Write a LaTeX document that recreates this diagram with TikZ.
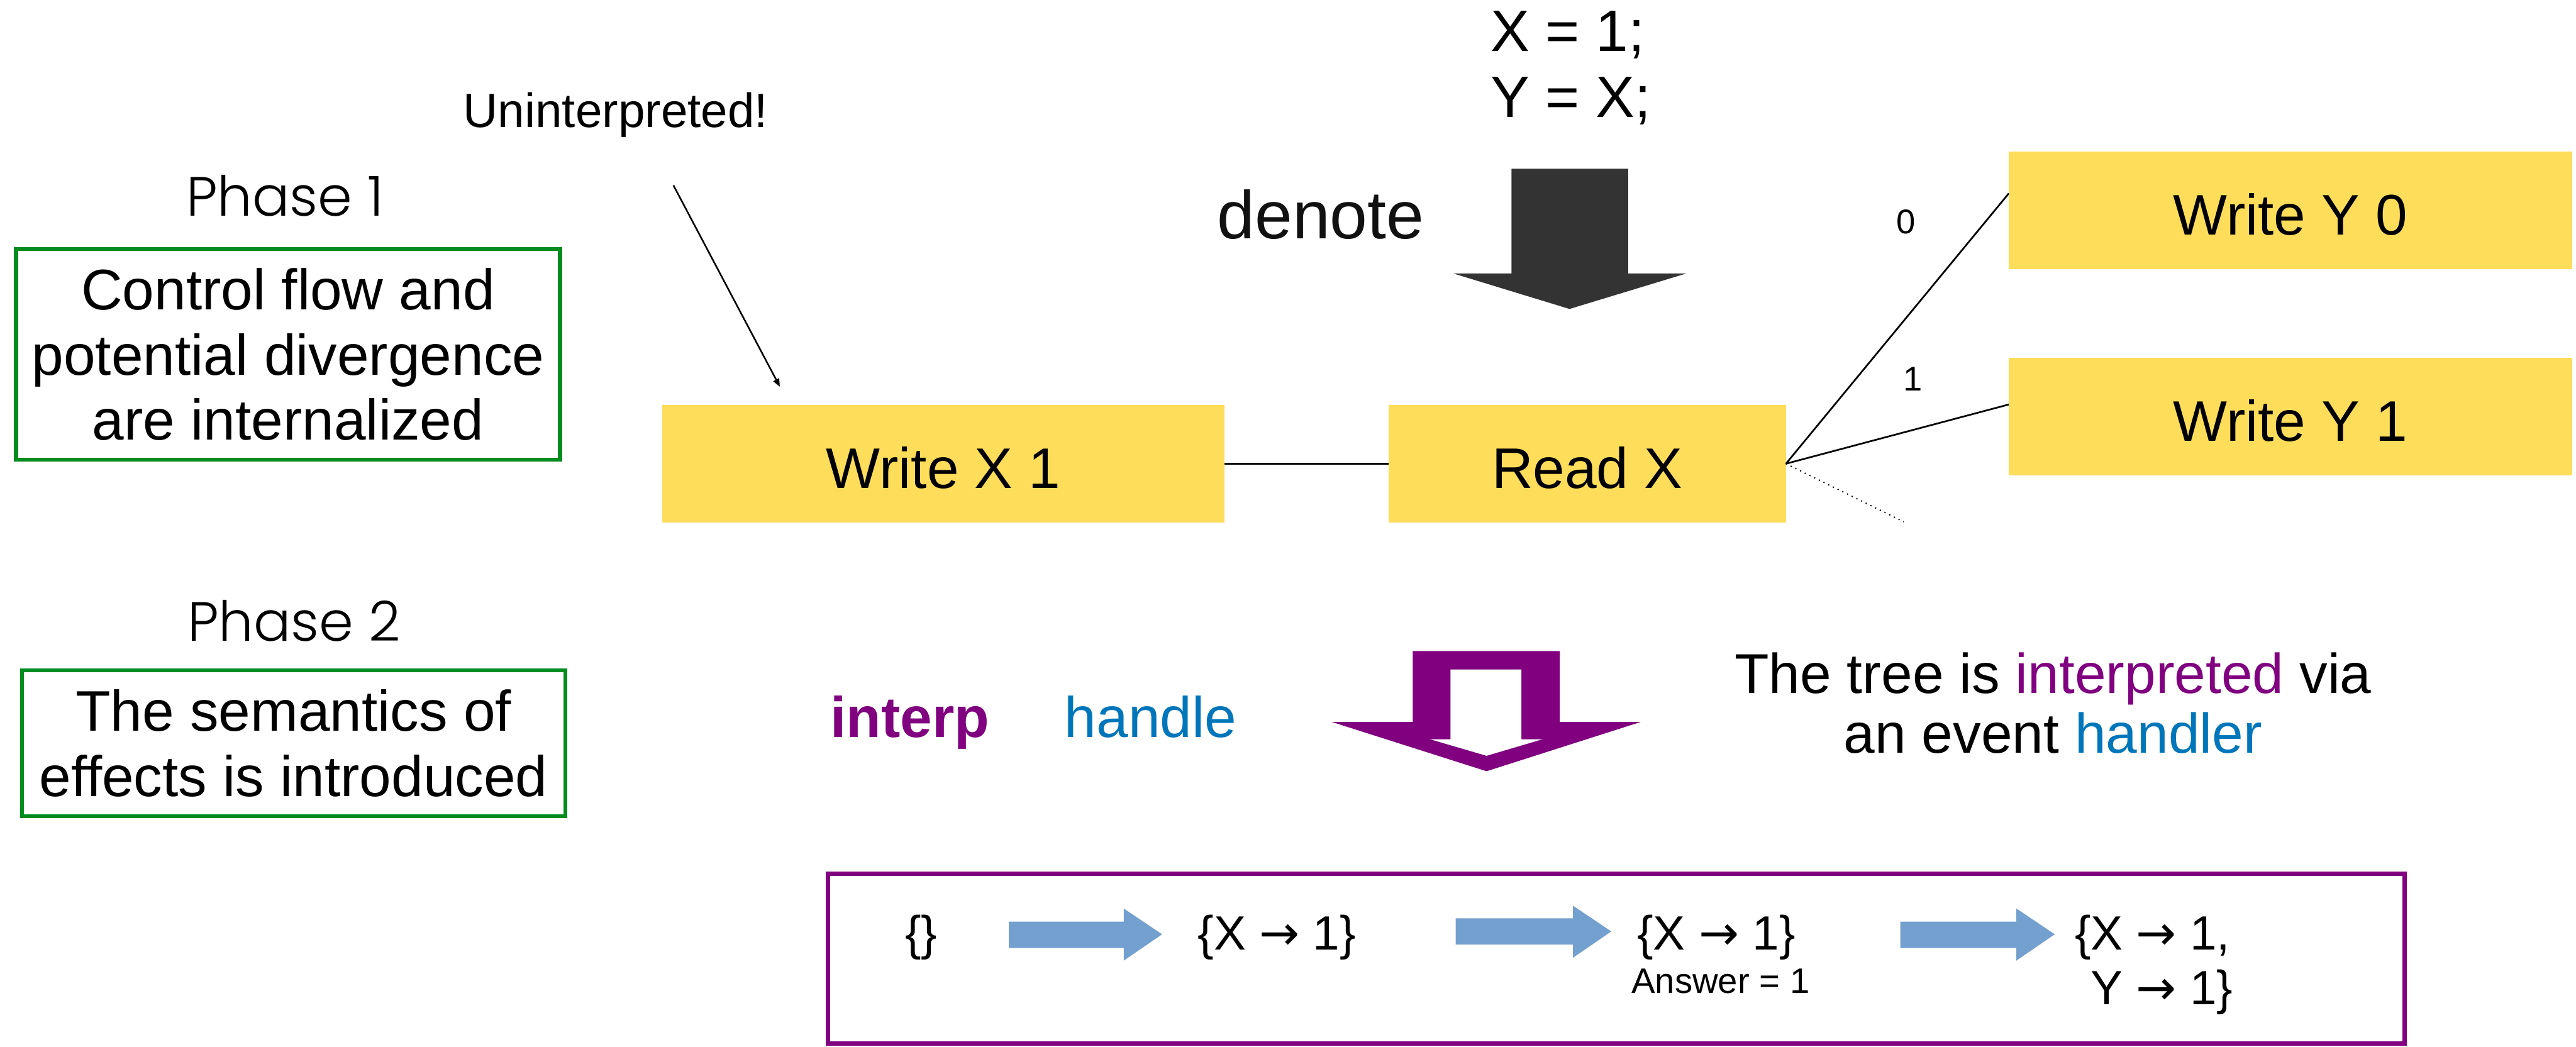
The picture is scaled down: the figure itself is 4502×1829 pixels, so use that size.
\documentclass[tikz,border=0pt]{standalone}
\usepackage{fontspec}
\setmainfont{Liberation Sans}
\newfontfamily\gothicfont{Poppins}[UprightFont={* Light}]
\newfontfamily\arrowfont{DejaVu Sans}
\newcommand\mapsarrow{{\arrowfont →}}
\usetikzlibrary{arrows.meta}

\definecolor{phasegreen}{RGB}{0,140,30}
\definecolor{interppurple}{RGB}{128,0,128}
\definecolor{handleblue}{RGB}{0,118,186}
\definecolor{eventyellow}{RGB}{254,221,90}
\definecolor{darkarrow}{RGB}{51,51,51}
\definecolor{denotegray}{RGB}{17,17,17}
\definecolor{stateblue}{RGB}{116,160,207}

\begin{document}
\begin{tikzpicture}[x=0.01cm,y=-0.01cm,
  every node/.style={inner sep=0pt, outer sep=0pt},
  phaselabel/.style={font=\gothicfont\fontsize{27.5}{32}\selectfont, anchor=base},
  phasebox/.style={draw=phasegreen, line width=0.07cm, align=center,
    font=\fontsize{28.45}{32.4}\selectfont},
  eventbox/.style={fill=eventyellow, minimum height=2.05cm, text height=0.86cm,
    text depth=0pt, font=\fontsize{28.45}{34}\selectfont},
  treeline/.style={line width=0.85pt},
  branchlabel/.style={font=\fontsize{17}{20}\selectfont},
  statetext/.style={font=\fontsize{23.9}{27.3}\selectfont},
  notearrow/.style={line width=0.8pt, -{Triangle[length=0.14cm,width=0.11cm]}},
]
\useasboundingbox (0,0) rectangle (4502,1829);

% ---- phase descriptions ----
\node[phaselabel] (ph1) at (498,378) {Phase 1};
\node[phasebox, minimum width=9.5cm, minimum height=3.68cm] (ph1box) at (503.5,619.5)
  {Control flow and\\potential divergence\\are internalized};
\node[phaselabel] (ph2) at (514,1120) {Phase 2};
\node[phasebox, minimum width=9.49cm, minimum height=2.55cm] (ph2box) at (513,1299)
  {The semantics of\\effects is introduced};

% ---- source program and denotation ----
\node[anchor=north west, align=left, font=\fontsize{29}{33}\selectfont] (prog) at (2605,19)
  {X = 1;\\Y = X;};
\node[anchor=base, text=denotegray, font=\fontsize{33.6}{40}\selectfont] (denote) at (2308,417) {denote};
\fill[darkarrow] (2641.5,295) -- (2845.5,295) -- (2845.5,478) -- (2947,478)
  -- (2743,540) -- (2540,478) -- (2641.5,478) -- cycle;

% ---- interaction tree ----
\node[eventbox, minimum width=9.82cm] (wx1) at (1649,810.5) {Write X 1};
\node[eventbox, minimum width=6.94cm] (rx) at (2774,810.5) {Read X};
\node[eventbox, minimum width=9.84cm] (wy0) at (4003,367.5) {Write Y 0};
\node[eventbox, minimum width=9.84cm] (wy1) at (4003,728) {Write Y 1};
\draw[treeline] (wx1) -- (rx);
\draw[treeline] (rx.east) -- ([yshift=0.295cm]wy0.west);
\draw[treeline] (rx.east) -- ([yshift=0.21cm]wy1.west);
\coordinate (more) at (3327,912);
\draw[dotted, line width=0.6pt] (rx.east) -- (more);
\node[branchlabel] (lab0) at (3331,388) {0};
\node[branchlabel] (lab1) at (3343,662) {1};

% ---- annotation ----
\node[anchor=base, font=\fontsize{23.9}{28}\selectfont] (unint) at (1076,223) {Uninterpreted!};
\coordinate (unintfrom) at (1177,324);
\coordinate (unintto) at (1363,676);
\draw[notearrow] (unintfrom) -- (unintto);

% ---- interpretation ----
\node[anchor=base, text=interppurple, font=\bfseries\fontsize{28.45}{34}\selectfont] (interp) at (1590,1289) {interp};
\node[anchor=base, text=handleblue, font=\fontsize{28.45}{34}\selectfont] (handle) at (2011,1289) {handle};
\fill[interppurple] (2469,1138) -- (2726,1138) -- (2726,1262) -- (2867,1262)
  -- (2598,1348) -- (2328,1262) -- (2469,1262) -- cycle;
\fill[white] (2535,1170) -- (2659,1170) -- (2659,1292) -- (2696,1292)
  -- (2598,1321) -- (2499,1292) -- (2535,1292) -- cycle;
\node[anchor=north, align=center, font=\fontsize{27.9}{29.6}\selectfont] (expl) at (3588,1141)
  {The tree is \textcolor{interppurple}{interpreted} via\\an event \textcolor{handleblue}{handler}};

% ---- state evolution ----
\node[draw=interppurple, line width=0.08cm, minimum width=27.54cm, minimum height=2.97cm] (states) at (2825,1675.5) {};
\node[statetext, anchor=base] (s0) at (1610,1660) {\{\}};
\fill[stateblue] (1763,1611) -- (1964,1611) -- (1964,1588) -- (2031,1633)
  -- (1964,1679) -- (1964,1657) -- (1763,1657) -- cycle;
\node[statetext, anchor=base] (s1) at (2231.5,1660) {\{X \mapsarrow{} 1\}};
\fill[stateblue] (2544,1605) -- (2749,1605) -- (2749,1583) -- (2816,1628)
  -- (2749,1674) -- (2749,1651) -- (2544,1651) -- cycle;
\node[statetext, anchor=base] (s2) at (2999.5,1660) {\{X \mapsarrow{} 1\}};
\node[anchor=base, font=\fontsize{17.6}{21}\selectfont] (ans) at (3007,1736) {Answer = 1};
\fill[stateblue] (3321,1611) -- (3524,1611) -- (3524,1588) -- (3591,1633)
  -- (3524,1679) -- (3524,1657) -- (3321,1657) -- cycle;
\node[statetext, anchor=north west, align=left] (s3) at (3626,1599)
  {\{X \mapsarrow{} 1,\\\hphantom{\{}Y \mapsarrow{} 1\}};
\end{tikzpicture}
\end{document}
